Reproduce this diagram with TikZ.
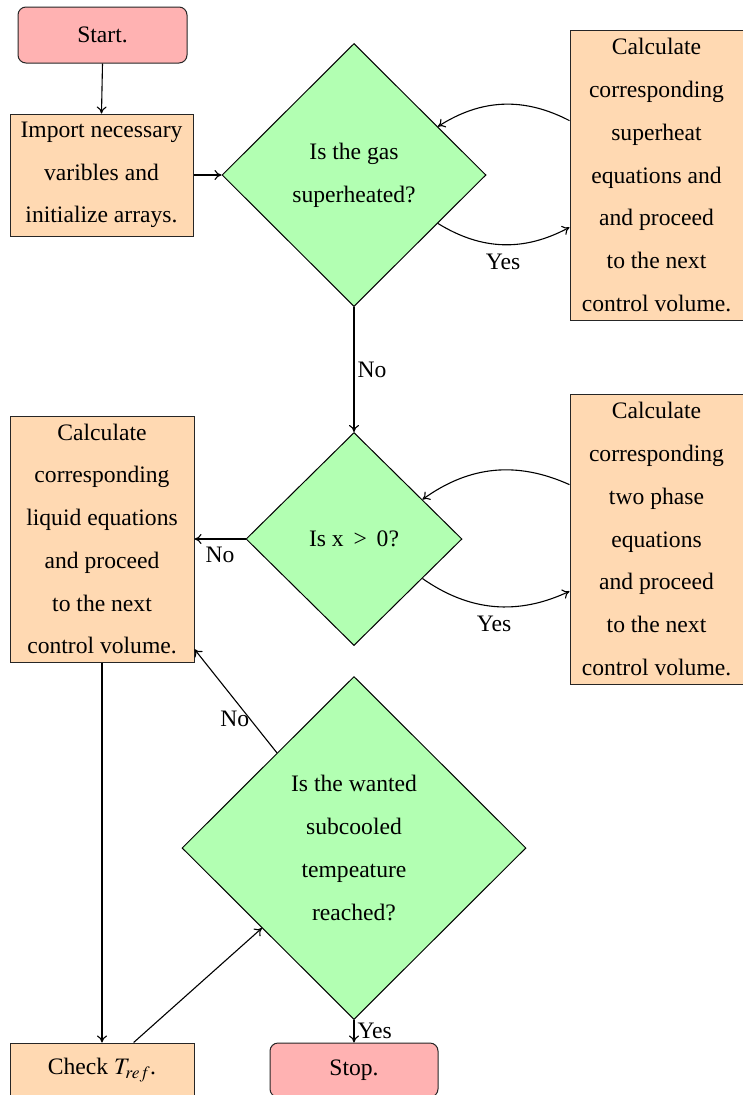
\documentclass[tikz,border=0pt]{standalone}
\usepackage{mathptmx}
\usepackage{fontspec}
\setmainfont{Liberation Serif}
\usetikzlibrary{shapes.geometric,arrows.meta}
\begin{document}
\begin{tikzpicture}[x=1pt,y=-1pt,
  base/.style={draw=black!85, line width=1pt, inner sep=0pt, align=center, font=\fontsize{23.6}{42.7}\selectfont},
  startstop/.style={base, rectangle, rounded corners=8pt, fill=red!30},
  process/.style={base, rectangle, fill=orange!30},
  decision/.style={base, diamond, aspect=1, fill=green!30, draw=black},
  arr/.style={line width=1.1pt, -{To[length=7pt,width=10pt]}},
  lbl/.style={font=\fontsize{23.6}{28}\selectfont, inner sep=3pt}]
\useasboundingbox (0,0) rectangle (743,1095);

\node[startstop, minimum width=169pt, minimum height=56pt] (start) at (102.5,35) {Start.};
\node[process, minimum width=183pt, minimum height=122pt] (import) at (101.5,175)
  {Import necessary\\varibles and\\initialize arrays.};
\node[decision, minimum width=264pt, minimum height=263pt] (d1) at (354,175)
  {Is the gas\\superheated?};
\node[process, minimum width=173pt, minimum height=290pt] (calc1) at (656.5,175)
  {Calculate\\corresponding\\superheat\\equations and\\and proceed\\to the next\\control volume.};
\node[decision, minimum width=216pt, minimum height=213pt] (d2) at (354,539)
  {Is x\, >\, 0?};
\node[process, minimum width=173pt, minimum height=290pt] (calc2) at (656.5,539)
  {Calculate\\corresponding\\two phase\\equations\\and proceed\\to the next\\control volume.};
\node[process, minimum width=184pt, minimum height=246pt] (liquid) at (102,539)
  {Calculate\\corresponding\\liquid equations\\and proceed\\to the next\\control volume.};
\node[decision, minimum width=344pt, minimum height=343pt] (d3) at (354,848)
  {Is the wanted\\subcooled\\tempeature\\reached?};
\node[process, minimum width=184pt, minimum height=54pt] (check) at (102,1070)
  {Check $T_{ref}$.};
\node[startstop, minimum width=168pt, minimum height=54pt] (stop) at (354,1070) {Stop.};

\draw[arr] (start.south) -- (import.north);
\draw[arr] (import.east) -- (d1.west);
\draw[arr] (calc1.148.5) to[bend right=30] (d1.30);
\draw[arr] (d1.-30) to[bend right=30] node[lbl, midway, below=6pt] {Yes} (calc1.211.5);
\draw[arr] (d1.south) -- node[lbl, midway, right] {No} (d2.north);
\draw[arr] (calc2.148.5) to[bend right=30] (d2.30);
\draw[arr] (d2.-30) to[bend right=30] node[lbl, midway, below=6pt] {Yes} (calc2.211.5);
\draw[arr] (d2.west) -- node[lbl, midway, below=4pt] {No} (liquid.east);
\draw[arr] (d3.129.1) -- node[lbl, pos=0.33, anchor=east, inner sep=0pt] {No} (liquid.-50.5);
\draw[arr] (liquid.south) -- (check.north);
\draw[arr] (check.41) -- (d3.221.4);
\draw[arr] (d3.south) -- node[lbl, midway, right] {Yes} (stop.north);
\end{tikzpicture}
\end{document}
